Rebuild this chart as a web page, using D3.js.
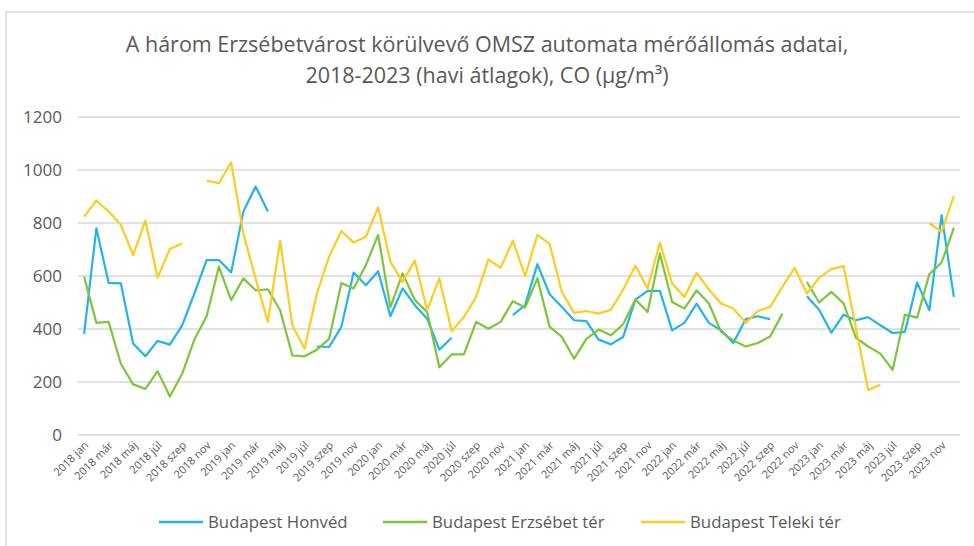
<!DOCTYPE html>
<html>
<head>
<meta charset="utf-8">
<script src="https://cdn.jsdelivr.net/npm/d3@7"></script>
<style>
  html, body { margin: 0; padding: 0; background: #fff; }
  svg { display: block; }
</style>
</head>
<body>
<svg id="chart" width="974" height="546"></svg>
<script>
// Havi CO átlagok, 2018 jan - 2023 dec (µg/m³), hiányzó hónap = null

const years = [2018, 2019, 2020, 2021, 2022, 2023];
const monthNames = ['jan', 'febr', 'már', 'ápr', 'máj', 'jún', 'júl', 'aug', 'szep', 'okt', 'nov', 'dec'];
const yTicks = [0, 200, 400, 600, 800, 1000, 1200];

const honved = [
    382, 780, 574, 572, 345, 297, 355, 341, 414, 534, 660, 660,
    613, 843, 938, 843, null, null, null, 334, 332, 408, 613, 565,
    618, 448, 553, 490, 439, 322, 367, null, null, null, null, 452,
    490, 645, 531, 483, 433, 430, 360, 342, 370, 511, 544, 544,
    395, 423, 496, 423, 395, 347, 437, 448, 437, null, null, 524,
    473, 386, 454, 433, 445, 414, 385, 389, 575, 471, 830, 521
];

const erzsebet = [
    597, 423, 427, 269, 191, 174, 241, 145, 231, 360, 448, 635,
    509, 591, 546, 550, 471, 300, 297, 322, 363, 574, 553, 641,
    755, 483, 610, 509, 464, 256, 304, 304, 427, 401, 427, 505,
    481, 591, 408, 370, 288, 363, 398, 376, 418, 511, 464, 685,
    502, 477, 546, 496, 389, 357, 334, 347, 372, 458, null, 578,
    500, 540, 496, 367, 334, 307, 246, 454, 443, 607, 651, 782
];

const teleki = [
    824, 885, 843, 793, 679, 809, 594, 702, 723, null, 960, 950,
    1029, 760, 590, 427, 733, 414, 326, 534, 673, 770, 726, 748,
    859, 654, 578, 658, 471, 591, 392, 445, 521, 663, 631, 733,
    600, 755, 721, 540, 461, 468, 458, 473, 548, 639, 553, 726,
    572, 521, 612, 549, 496, 477, 423, 468, 483, 559, 631, 534,
    594, 626, 637, 405, 170, 190, null, null, null, 799, 767, 902
];

const seriesNames = ['Budapest Honvéd', 'Budapest Erzsébet tér', 'Budapest Teleki tér'];
const seriesColors = ['#24b4ea', '#7cc63a', '#fdcc1f'];

const categories = [];
years.forEach(y => monthNames.forEach(m => categories.push(`${y} ${m}`)));

const series = [honved, erzsebet, teleki].map((values, k) => ({
    name: seriesNames[k],
    color: seriesColors[k],
    values
}));

const svg = d3.select('#chart');
const textColor = '#595959';
const font = '"Open Sans", sans-serif';

// chart frame (only top and left edges show in the picture)
svg.append('line').attr('x1', 5).attr('x2', 974).attr('y1', 12).attr('y2', 12)
    .attr('stroke', '#e3e3e3').attr('stroke-width', 2);
svg.append('line').attr('x1', 6).attr('x2', 6).attr('y1', 12).attr('y2', 546)
    .attr('stroke', '#e3e3e3').attr('stroke-width', 2);

// title
const title = svg.append('text')
    .attr('text-anchor', 'middle')
    .attr('fill', textColor)
    .attr('font-family', font)
    .attr('font-size', '21.5px');
title.append('tspan').attr('x', 487).attr('y', 52)
    .text('A három Erzsébetvárost körülvevő OMSZ automata mérőállomás adatai,');
title.append('tspan').attr('x', 487).attr('y', 83)
    .text('2018-2023 (havi átlagok), CO (µg/m³)');

const x = d3.scaleBand()
    .domain(d3.range(categories.length))
    .range([78, 960]);

const y = d3.scaleLinear()
    .domain([0, 1200])
    .range([435, 117]);

// gridlines
svg.append('g')
    .selectAll('line')
    .data(yTicks)
    .enter()
    .append('line')
    .attr('x1', 78)
    .attr('x2', 960)
    .attr('y1', d => y(d))
    .attr('y2', d => y(d))
    .attr('stroke', '#d9d9d9')
    .attr('stroke-width', 1.5);

// y axis labels
const yAxis = svg.append('g')
    .attr('transform', 'translate(62,0)')
    .call(d3.axisLeft(y).tickValues(yTicks).tickFormat(d3.format('d')).tickSize(0).tickPadding(0));
yAxis.select('.domain').remove();
yAxis.selectAll('text')
    .attr('fill', textColor)
    .attr('font-family', font)
    .attr('font-size', '17px');

// x axis labels, every second month, rotated
const xAxis = svg.append('g')
    .attr('transform', 'translate(0,435)')
    .call(d3.axisBottom(x)
        .tickValues(d3.range(0, categories.length, 2))
        .tickFormat(i => categories[i])
        .tickSize(0)
        .tickPadding(0));
xAxis.select('.domain').remove();
xAxis.selectAll('text')
    .attr('fill', textColor)
    .attr('font-family', font)
    .attr('font-size', '11px')
    .attr('text-anchor', 'end')
    .attr('dy', 0)
    .attr('transform', 'translate(5,11) rotate(-45)');

// lines
const line = d3.line()
    .defined(d => d !== null)
    .x((d, i) => x(i) + x.bandwidth() / 2)
    .y(d => y(d));

svg.append('g')
    .selectAll('path')
    .data(series)
    .enter()
    .append('path')
    .attr('d', d => line(d.values))
    .attr('fill', 'none')
    .attr('stroke', d => d.color)
    .attr('stroke-width', 2.2)
    .attr('stroke-linejoin', 'round');

// legend
const legendX = [159, 383, 641];
const legend = svg.append('g')
    .selectAll('g')
    .data(series)
    .enter()
    .append('g')
    .attr('transform', (d, k) => `translate(${legendX[k]},522)`);

legend.append('line')
    .attr('x1', 0).attr('x2', 44)
    .attr('stroke', d => d.color)
    .attr('stroke-width', 2.5);

legend.append('text')
    .attr('x', 49)
    .attr('dy', '0.35em')
    .attr('fill', textColor)
    .attr('font-family', font)
    .attr('font-size', '16.8px')
    .text(d => d.name);
</script>
</body>
</html>
